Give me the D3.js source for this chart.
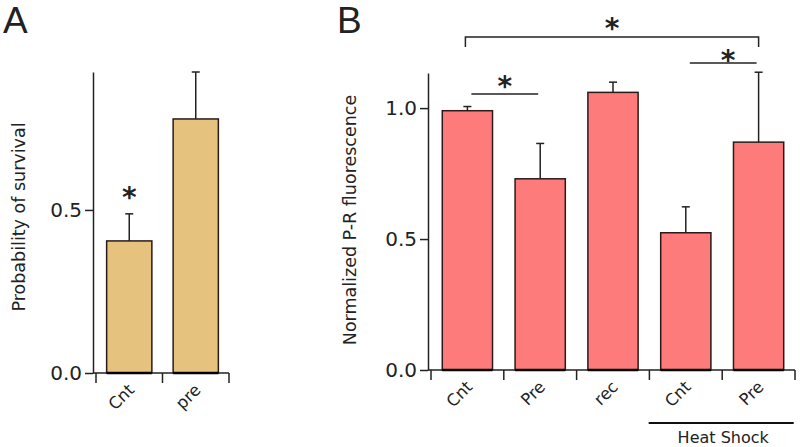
<!DOCTYPE html>
<html><head><meta charset="utf-8">
<script src="https://cdn.jsdelivr.net/npm/d3@7/dist/d3.min.js"></script>
<style>body{margin:0;background:#fff}svg{display:block}text{font-family:"DejaVu Sans",Verdana,sans-serif;fill:#222}</style>
</head><body><svg id="c" width="800" height="447"></svg>
<script>
// Panel A data
const catsA = ["Cnt", "pre"];
const meanA = [0.405, 0.779];
const errA = [0.083, 0.144];
const ticksA = [0, 0.5];
// Panel B data
const catsB = ["Cnt", "Pre", "rec", "Cnt ", "Pre "];
const labelsB = ["Cnt", "Pre", "rec", "Cnt", "Pre"];
const meanB = [0.990, 0.730, 1.060, 0.524, 0.870];
const errB = [0.016, 0.135, 0.039, 0.099, 0.267];
const ticksB = [0, 0.5, 1.0];
// significance markers: [fromIndex, toIndex]
const sigB = [[0, 1], [3, 4], [0, 4]];

const svg = d3.select("#c");
const fmt = d3.format(".1f");

function panel(o) {
  const g = svg.append("g");
  const y = d3.scaleLinear().domain([0, o.yMax]).range([o.y0, o.yTop]);
  const x = d3.scaleBand().domain(o.cats).range(o.xr).paddingInner(o.pad).paddingOuter(o.pad / 2);
  const ya = d3.axisLeft(y).tickValues(o.ticks).tickFormat(fmt).tickSize(8).tickSizeOuter(0).tickPadding(3);
  const yg = g.append("g").attr("transform", `translate(${o.ax},0)`).call(ya);
  yg.select(".domain").attr("stroke", "#222").attr("stroke-width", 1.5);
  yg.selectAll(".tick line").attr("stroke", "#222").attr("stroke-width", 1.5);
  yg.selectAll(".tick text").style("font-size", o.tickFs + "px").attr("fill", "#333")
    .style("font-family", '"DejaVu Sans",sans-serif');
  g.append("line").attr("x1", o.ax).attr("x2", o.xr[1]).attr("y1", y(0)).attr("y2", y(0))
    .attr("stroke", "#222").attr("stroke-width", 1.5);
  const bounds = d3.range(o.cats.length + 1).map(i => o.xr[0] + i * x.step());
  g.selectAll("line.bt").data(bounds).join("line").attr("class", "bt")
    .attr("x1", d => d).attr("x2", d => d).attr("y1", y(0)).attr("y2", y(0) + 10)
    .attr("stroke", "#222").attr("stroke-width", 1.5);
  const eb = g.selectAll("g.eb").data(o.cats).join("g").attr("class", "eb");
  eb.append("line").attr("x1", d => x(d) + x.bandwidth() / 2).attr("x2", d => x(d) + x.bandwidth() / 2)
    .attr("y1", (d, i) => y(o.mean[i])).attr("y2", (d, i) => y(o.mean[i] + o.err[i]))
    .attr("stroke", "#222").attr("stroke-width", 1.5);
  eb.append("line").attr("x1", d => x(d) + x.bandwidth() / 2 - 4).attr("x2", d => x(d) + x.bandwidth() / 2 + 4)
    .attr("y1", (d, i) => y(o.mean[i] + o.err[i])).attr("y2", (d, i) => y(o.mean[i] + o.err[i]))
    .attr("stroke", "#222").attr("stroke-width", 1.5);
  g.selectAll("rect.bar").data(o.cats).join("rect").attr("class", "bar")
    .attr("x", d => x(d)).attr("width", x.bandwidth())
    .attr("y", (d, i) => y(o.mean[i])).attr("height", (d, i) => y(0) - y(o.mean[i]))
    .attr("fill", o.fill).attr("stroke", "#2a1a1a").attr("stroke-width", 1.5);
  g.selectAll("line.bb").data(o.cats).join("line").attr("class", "bb")
    .attr("x1", d => x(d)).attr("x2", d => x(d) + x.bandwidth()).attr("y1", y(0)).attr("y2", y(0))
    .attr("stroke", "#000").attr("stroke-width", 2.5);
  // category labels (rotated)
  const lx = d => x(d) + x.bandwidth() / 2 + 6, ly = y(0) + 18;
  const t = g.selectAll("text.cl").data(o.cats).join("text").attr("class", "cl")
    .attr("text-anchor", "end").style("font-size", o.catFs + "px").attr("fill", "#333")
    .text((d, i) => o.labels[i]);
  if (o.mode === "css") {
    t.attr("x", 0).attr("y", 0)
      .style("transform", d => `translate(${lx(d)}px, ${ly}px) rotate(-45deg)`);
  } else {
    t.attr("x", lx).attr("y", ly).attr("transform", d => `rotate(-45 ${lx(d)} ${ly})`);
  }
  g.append("text").attr("text-anchor", "middle").style("font-size", o.titleFs + "px").attr("fill", "#222")
    .attr("transform", `translate(${o.titleX},${o.titleY}) rotate(-90)`).text(o.title);
  g.append("text").attr("x", o.letterX).attr("y", 33).style("font-size", "37px")
    .style("font-family", '"Liberation Sans",Arial,sans-serif').attr("fill", "#111").text(o.letter);
  return {g, x, y};
}

const A = panel({cats: catsA, labels: catsA, mean: meanA, err: errA, ticks: ticksA, yMax: 0.923,
  y0: 373, yTop: 72, xr: [96, 229], pad: 0.32, ax: 93, fill: "#e6c27f", mode: "css",
  tickFs: 20, catFs: 16.5, titleFs: 17.5, title: "Probability of survival", titleX: 25, titleY: 217,
  letter: "A", letterX: 3});
const B = panel({cats: catsB, labels: labelsB, mean: meanB, err: errB, ticks: ticksB, yMax: 1.134,
  y0: 370, yTop: 73, xr: [431, 795], pad: 0.31, ax: 428, fill: "#fe7b7b", mode: "attr",
  tickFs: 20, catFs: 16.5, titleFs: 17.5, title: "Normalized P-R fluorescence", titleX: 356, titleY: 220,
  letter: "B", letterX: 337});

A.g.append("text").attr("x", A.x("Cnt") + A.x.bandwidth() / 2).attr("y", 207).attr("text-anchor", "middle")
  .style("font-size", "28px").style("font-weight", "bold").attr("fill", "#111").text("*");

const cx = i => B.x(catsB[i]) + B.x.bandwidth() / 2;
const sigY = [94, 63, 37];
const starY = [96, 70, 38];
const sigG = B.g.append("g");
sigB.forEach((s, k) => {
  const x1 = cx(s[0]) + (k === 2 ? -2 : 4), x2 = cx(s[1]) + (k === 2 ? 0 : -2);
  if (k === 2) {
    sigG.append("path").attr("d", `M${x1},47V${sigY[k]}H${x2}V47`).attr("fill", "none")
      .attr("stroke", "#222").attr("stroke-width", 1.5);
  } else {
    sigG.append("line").attr("x1", x1).attr("x2", x2).attr("y1", sigY[k]).attr("y2", sigY[k])
      .attr("stroke", "#222").attr("stroke-width", 1.5);
  }
  sigG.append("text").attr("x", (x1 + x2) / 2 + (k === 1 ? 5 : 0)).attr("y", starY[k]).attr("text-anchor", "middle")
    .style("font-size", "28px").style("font-weight", "bold").attr("fill", "#111").text("*");
});

const hsX1 = B.x(catsB[3]) - 12, hsX2 = B.x(catsB[4]) + B.x.bandwidth() + 10;
B.g.append("line").attr("x1", hsX1).attr("x2", hsX2).attr("y1", 423).attr("y2", 423)
  .attr("stroke", "#111").attr("stroke-width", 2);
B.g.append("text").attr("x", (hsX1 + hsX2) / 2 + 2).attr("y", 443).attr("text-anchor", "middle")
  .style("font-size", "16px").attr("fill", "#333").text("Heat Shock");
</script></body></html>
